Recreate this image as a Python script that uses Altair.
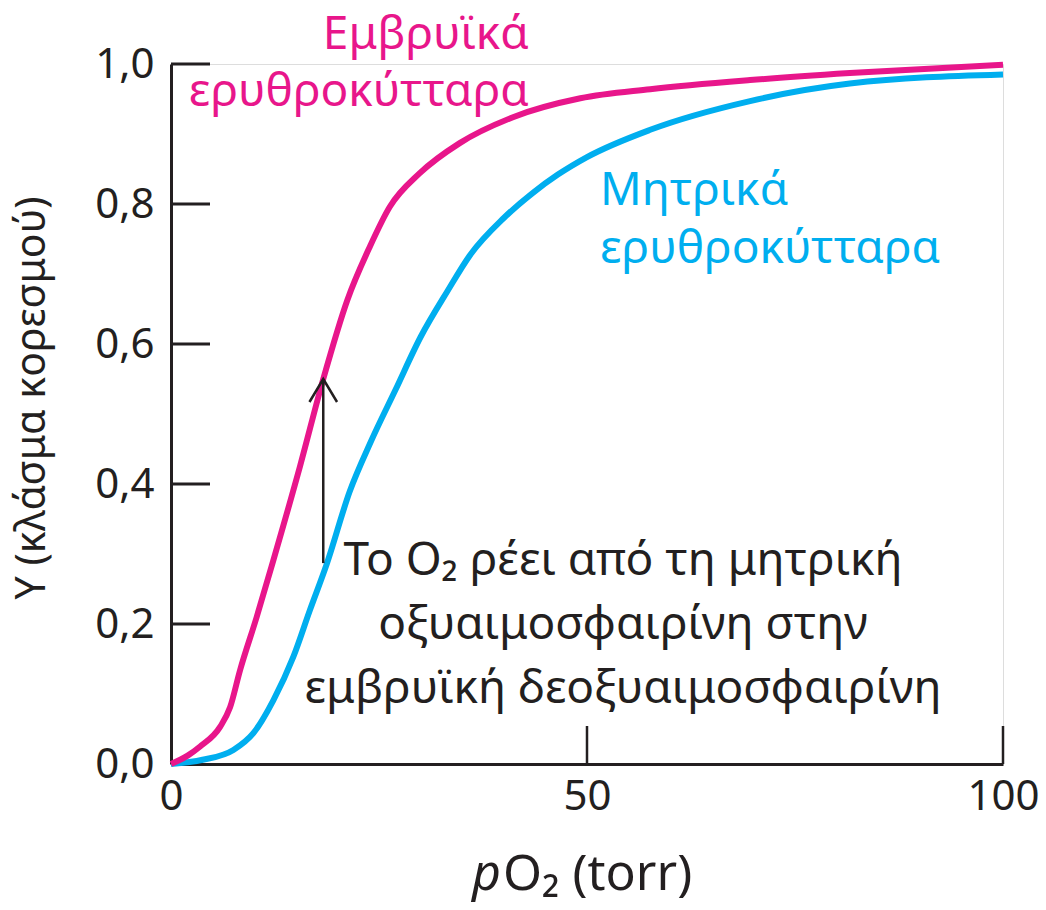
import altair as alt
import pandas as pd

# Fetal (Εμβρυϊκά) curve
fetal_po2 = [0, 2, 3.5, 5.9, 7.1, 8.3, 10.3, 12.3, 15.5, 18.3, 21.2, 23.9, 26.3, 29.9, 34.7, 41.1, 49.2, 57.6, 69.6, 81.6, 100]
fetal_y = [0.0, 0.012, 0.025, 0.053, 0.081, 0.134, 0.21, 0.291, 0.425, 0.55, 0.663, 0.739, 0.796, 0.844, 0.887, 0.924, 0.951, 0.964, 0.977, 0.987, 0.999]

# Maternal (Μητρικά) curve
mat_po2 = [0, 3.8, 7.5, 9.9, 12.3, 14.7, 16.7, 18.7, 21.5, 24, 27, 30, 33.2, 36, 40, 43.5, 46.5, 50, 57.6, 69.6, 81.6, 100]
mat_y = [0.0, 0.006, 0.02, 0.044, 0.091, 0.153, 0.22, 0.285, 0.39, 0.46, 0.535, 0.61, 0.675, 0.728, 0.78, 0.816, 0.842, 0.867, 0.906, 0.947, 0.972, 0.985]

# Arrow from maternal to fetal curve
arrow_x = [18.3]
arrow_y0 = [0.287]
arrow_y1 = [0.55]

y_ticks = [0.2, 0.4, 0.6, 0.8, 1.0]
x_ticks = [50, 100]

PINK = "#E8168B"
CYAN = "#00AEEF"
INK = "#231F20"
FONT = "Noto Sans"

W, H = 832, 700

fetal_df = pd.DataFrame({"po2": fetal_po2, "y": fetal_y})
mat_df = pd.DataFrame({"po2": mat_po2, "y": mat_y})
arrow_df = pd.DataFrame({"x": arrow_x, "y0": arrow_y0, "y1": arrow_y1})

xscale = alt.Scale(domain=[0, 100], nice=False)
yscale = alt.Scale(domain=[0, 1], nice=False)

x_axis = alt.Axis(values=[0, 50, 100], ticks=False, grid=False, domainColor=INK, domainWidth=3,
                  labelFont=FONT, labelFontSize=42, labelColor=INK, labelPadding=12, title=None,
                  labelFlush=False, labelOverlap=False)
y_axis = alt.Axis(values=[0, 0.2, 0.4, 0.6, 0.8, 1.0], ticks=False, grid=False, domainColor=INK, domainWidth=3,
                  labelFont=FONT, labelFontSize=42, labelColor=INK, labelPadding=17, title=None,
                  labelFlush=False, labelOverlap=False,
                  labelExpr="replace(format(datum.value, '.1f'), '.', ',')")

base = alt.Chart(mat_df).mark_line(color=CYAN, strokeWidth=6, interpolate="monotone").encode(
    x=alt.X("po2:Q", scale=xscale, axis=x_axis),
    y=alt.Y("y:Q", scale=yscale, axis=y_axis),
)

fetal = alt.Chart(fetal_df).mark_line(color=PINK, strokeWidth=6, interpolate="monotone").encode(
    x=alt.X("po2:Q", scale=xscale),
    y=alt.Y("y:Q", scale=yscale),
)

ytick_rules = alt.Chart(pd.DataFrame({"v": y_ticks})).mark_rule(color=INK, strokeWidth=3).encode(
    y=alt.Y("v:Q", scale=yscale), x=alt.value(0), x2=alt.value(39)
)
xtick_rules = alt.Chart(pd.DataFrame({"v": x_ticks})).mark_rule(color=INK, strokeWidth=2.5).encode(
    x=alt.X("v:Q", scale=xscale), y=alt.value(H), y2=alt.value(H - 38)
)

arrow_line = alt.Chart(arrow_df).mark_rule(color=INK, strokeWidth=2.5).encode(
    x=alt.X("x:Q", scale=xscale), y=alt.Y("y0:Q", scale=yscale), y2="y1:Q"
)
arrow_head = alt.Chart(arrow_df).mark_point(
    shape="M -0.6 1 L 0 0 L 0.6 1", filled=False, color=INK, strokeWidth=2.5, size=2116, opacity=1
).encode(x=alt.X("x:Q", scale=xscale), y=alt.Y("y1:Q", scale=yscale))

def txt(lines, x, y, color, size, align="center", angle=0, style="normal", lh=62, baseline="alphabetic"):
    props = dict(font=FONT, fontSize=size, color=color, align=align, baseline=baseline,
                 lineHeight=lh, fontStyle=style)
    if angle:
        props["angle"] = angle
    return alt.Chart(pd.DataFrame({"a": [0]})).mark_text(**props).encode(
        x=alt.value(x), y=alt.value(y), text=alt.value(lines)
    )

fetal_label = txt(["Εμβρυϊκά", "ερυθροκύτταρα"], 358, -15, PINK, 46, align="right", lh=57)
mat_label = txt(["Μητρικά", "ερυθροκύτταρα"], 429, 141, CYAN, 46, align="left", lh=58)
note = txt(["Το O₂ ρέει από τη μητρική", "οξυαιμοσφαιρίνη στην", "εμβρυϊκή δεοξυαιμοσφαιρίνη"],
           452, 511, INK, 46, lh=64)
xtitle_p = txt("p", 330, 826, INK, 50, align="right", style="italic")
xtitle_rest = txt("O₂ (torr)", 332, 826, INK, 50, align="left")
ytitle = txt("Y (κλάσμα κορεσμού)", -138, 334, INK, 41, angle=270, baseline="middle")

chart = alt.layer(
    base, fetal, ytick_rules, xtick_rules, arrow_line, arrow_head,
    fetal_label, mat_label, note, xtitle_p, xtitle_rest, ytitle
).properties(
    width=W, height=H,
    padding={"left": 171, "top": 64, "right": 43, "bottom": 146},
    autosize=alt.AutoSizeParams(type="none"),
).configure_view(stroke=None).configure(background="white")

chart.save("out.html", embed_options={"renderer": "svg", "actions": False})
